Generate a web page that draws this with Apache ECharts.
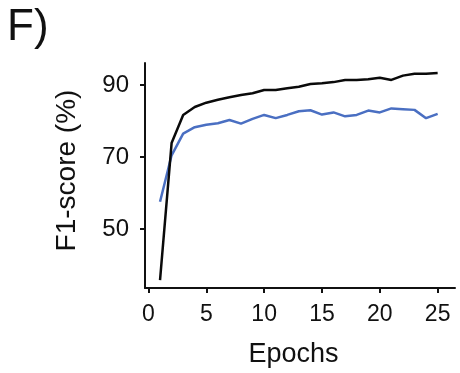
<!DOCTYPE html>
<html>
<head>
<meta charset="utf-8">
<script src="https://cdn.jsdelivr.net/npm/echarts@6/dist/echarts.min.js"></script>
<style>html,body{margin:0;padding:0;background:#fff;}#c{width:460px;height:373px;}</style>
</head>
<body>
<div id="c"></div>
<script>
var epochs = [1,2,3,4,5,6,7,8,9,10,11,12,13,14,15,16,17,18,19,20,21,22,23,24,25];
var blackSeries = [35.9,73.9,81.7,83.9,85.1,85.9,86.6,87.2,87.7,88.6,88.6,89.1,89.5,90.3,90.5,90.8,91.4,91.4,91.6,92.0,91.4,92.6,93.1,93.1,93.3];
var blueSeries = [57.6,70.5,76.5,78.3,79.0,79.4,80.3,79.3,80.6,81.7,80.8,81.7,82.7,83.0,81.8,82.4,81.3,81.7,82.9,82.4,83.5,83.3,83.1,80.8,82.0];
var xTicks = [0,5,10,15,20,25];
var yTicks = [50,70,90];

function pairs(ys){ return epochs.map(function(e,i){ return [e, ys[i]]; }); }

var chart = echarts.init(document.getElementById('c'), null, {renderer:'canvas'});
var font = 'Liberation Sans, Arial, sans-serif';
chart.setOption({
  animation:false,
  backgroundColor:'#ffffff',
  graphic:[{type:'text', left:7, top:6, style:{text:'F)', font:'44px ' + font, fill:'#111'}}],
  grid:{left:145, right:5, top:63, bottom:83},
  xAxis:{
    type:'value', min:-0.3, max:26.5,
    name:'Epochs', nameLocation:'middle', nameGap:53,
    nameTextStyle:{fontFamily:font, fontSize:27, color:'#111', padding:[0,13,0,0]},
    axisLine:{show:true, onZero:false, lineStyle:{color:'#111', width:2}},
    axisTick:{show:true, length:5, customValues:xTicks, lineStyle:{color:'#111', width:2}},
    axisLabel:{customValues:xTicks, fontFamily:font, fontSize:23, color:'#111', margin:15},
    splitLine:{show:false}
  },
  yAxis:{
    type:'value', min:33.7, max:96.1,
    name:'F1-score (%)', nameLocation:'middle', nameGap:64, nameRotate:90,
    nameTextStyle:{fontFamily:font, fontSize:28, color:'#111', padding:[0,0,0,10]},
    axisLine:{show:true, onZero:false, lineStyle:{color:'#111', width:2}},
    axisTick:{show:true, length:5, customValues:yTicks, lineStyle:{color:'#111', width:2}},
    axisLabel:{customValues:yTicks, fontFamily:font, fontSize:24, color:'#111', margin:16},
    splitLine:{show:false}
  },
  series:[
    {type:'line', data:pairs(blueSeries), showSymbol:false, lineStyle:{color:'#4a6fc2', width:2.5}, z:2},
    {type:'line', data:pairs(blackSeries), showSymbol:false, lineStyle:{color:'#0a0a0a', width:2.5}, z:3}
  ]
});
</script>
</body>
</html>
